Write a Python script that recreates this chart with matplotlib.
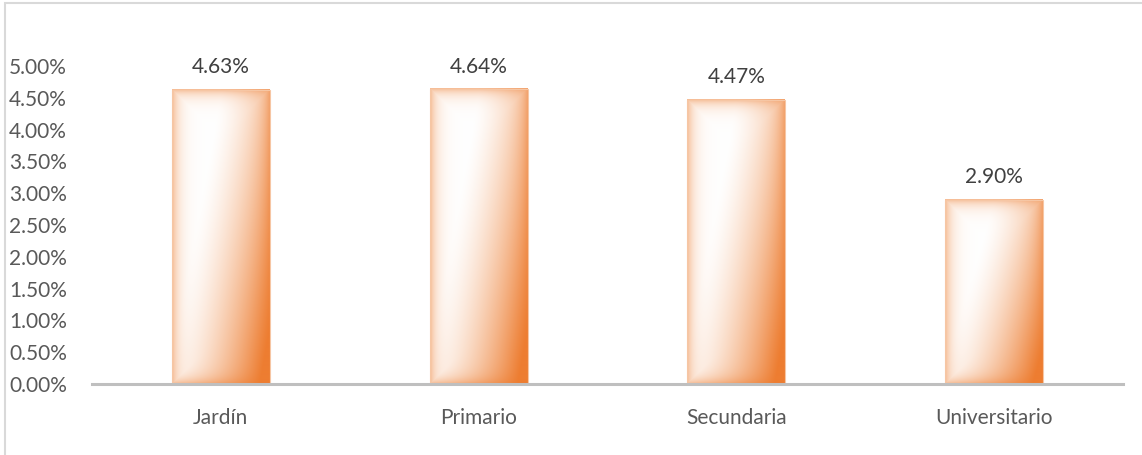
import numpy as np
import matplotlib
matplotlib.use("Agg")
import matplotlib.pyplot as plt
from matplotlib.patches import Rectangle
from matplotlib.colors import to_rgb

# datos
categorias = ["Jardín", "Primario", "Secundaria", "Universitario"]
valores = [0.0463, 0.0464, 0.0447, 0.0290]
etiquetas = ["4.63%", "4.64%", "4.47%", "2.90%"]
ticks_y = [0.0, 0.005, 0.01, 0.015, 0.02, 0.025, 0.03, 0.035, 0.04, 0.045, 0.05]

plt.rcParams['font.family'] = ['Lato', 'DejaVu Sans']

W, H = 1142, 455
fig = plt.figure(figsize=(W / 100, H / 100), dpi=100)
ax = fig.add_axes([92 / W, 1 - 384 / H, 1031 / W, (384 - 66) / H])

naranja = np.array(to_rgb("#ED7D31"))
blanco = np.array([1.0, 1.0, 1.0])
ancho = 0.38
px_por_unidad = (384 - 66) / 0.05
fs = 15


def degradado(nx, ny):
    u = np.linspace(0, 1, nx)[None, :]
    v = np.linspace(0, 1, ny)[:, None]
    # diagonal: blanco arriba-izquierda, naranja abajo-derecha
    s = np.clip((u + 0.55 * v - 0.5) / 0.95, 0, 1) ** 1.4
    # brillo en los bordes
    xp = np.arange(nx)[None, :]
    yp = np.arange(ny)[:, None]
    d = np.minimum(np.minimum(xp, nx - 1 - xp), np.minimum(yp, ny - 1 - yp))
    e = 0.5 * np.exp(-d / 7.0)
    t = np.clip(s + e * (1 - s), 0, 1)
    img = blanco[None, None, :] * (1 - t[..., None]) + naranja[None, None, :] * t[..., None]
    return img


for i, (v, lab) in enumerate(zip(valores, etiquetas)):
    x0 = i - ancho / 2
    ny = max(int(v * px_por_unidad), 2)
    ax.imshow(degradado(98, ny), extent=(x0, x0 + ancho, 0, v), aspect='auto',
              origin='upper', interpolation='bilinear', zorder=2)
    ax.add_patch(Rectangle((x0, 0), ancho, v, fill=False, edgecolor="#F6C6A4",
                           linewidth=0.8, zorder=3))
    ax.text(i, v + 0.0035, lab, ha='center', va='center', fontsize=fs,
            color="#404040", clip_on=False)

ax.set_xlim(-0.5, 3.5)
ax.set_ylim(0, 0.05)
ax.set_xticks(range(len(categorias)))
ax.set_xticklabels(categorias)
ax.set_yticks(ticks_y)
ax.set_yticklabels(["{:.2f}%".format(t * 100) for t in ticks_y])
ax.tick_params(axis='both', length=0, labelsize=fs, labelcolor="#595959")
ax.tick_params(axis='x', pad=17)
ax.tick_params(axis='y', pad=18)
for s in ["top", "right", "left"]:
    ax.spines[s].set_visible(False)
ax.spines["bottom"].set_color("#BFBFBF")
ax.spines["bottom"].set_linewidth(2.2)
ax.spines["bottom"].set_zorder(4)

# marco del gráfico
fig.patches.append(Rectangle((4.5 / W, -0.1), 1.2, 1 - 3.5 / H + 0.1, transform=fig.transFigure,
                             fill=False, edgecolor="#D9D9D9", linewidth=1.5))

fig.savefig("out.png", dpi=100)
